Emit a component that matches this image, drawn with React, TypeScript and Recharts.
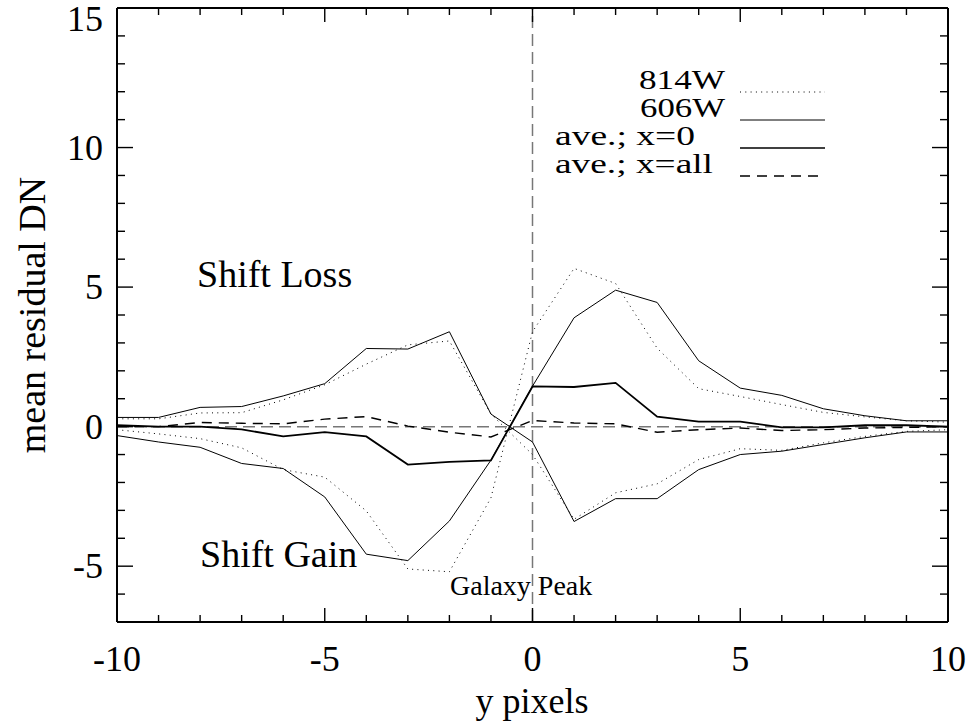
import { Legend, Line, LineChart, ReferenceLine, XAxis, YAxis } from 'recharts';

const yPixels = [-10, -9, -8, -7, -6, -5, -4, -3, -2, -1, 0, 1, 2, 3, 4, 5, 6, 7, 8, 9, 10];

// 814W, the two traces (loss side positive on the left, gain side negative on the left)
const f814Loss = [0.28, 0.28, 0.49, 0.5, 0.96, 1.5, 2.24, 2.93, 3.07, 0.45, -1.0, -3.32, -2.37, -2.05, -1.18, -0.79, -0.85, -0.58, -0.35, -0.17, -0.11];
const f814Gain = [-0.11, -0.26, -0.43, -0.76, -1.54, -1.81, -3.02, -5.1, -5.2, -2.55, 3.4, 5.67, 5.13, 2.81, 1.36, 1.08, 0.79, 0.51, 0.35, 0.21, 0.16];

// 606W
const f606Loss = [0.33, 0.33, 0.69, 0.72, 1.1, 1.54, 2.8, 2.78, 3.4, 0.45, -0.55, -3.4, -2.58, -2.58, -1.54, -1.0, -0.88, -0.64, -0.4, -0.19, -0.19];
const f606Gain = [-0.32, -0.55, -0.74, -1.32, -1.5, -2.52, -4.57, -4.8, -3.38, -1.2, 1.45, 3.9, 4.89, 4.45, 2.36, 1.38, 1.12, 0.64, 0.39, 0.21, 0.21];

// averages
const aveX0 = [0.05, 0, 0, -0.1, -0.35, -0.2, -0.35, -1.36, -1.26, -1.21, 1.44, 1.42, 1.57, 0.36, 0.18, 0.18, -0.03, -0.03, 0.05, 0.05, 0];
const aveXAll = [0, 0, 0.15, 0.12, 0.1, 0.27, 0.36, 0.02, -0.2, -0.37, 0.22, 0.13, 0.1, -0.2, -0.11, -0.05, -0.14, -0.11, -0.05, -0.03, 0];

const xTicks = yPixels;
const yTicks = [-7, -6, -5, -4, -3, -2, -1, 0, 1, 2, 3, 4, 5, 6, 7, 8, 9, 10, 11, 12, 13, 14, 15];

const legendLabels = ['814W', '606W', 'ave.; x=0', 'ave.; x=all'];

const rows = yPixels.map((x, i) => ({
  x,
  f814Loss: f814Loss[i],
  f814Gain: f814Gain[i],
  f606Loss: f606Loss[i],
  f606Gain: f606Gain[i],
  aveX0: aveX0[i],
  aveXAll: aveXAll[i],
}));

const FONT = '"Liberation Serif", "Times New Roman", serif';
const DOTTED = '1 4.3';
const DASHED = '10 7';

// legend text is a bit wider than it is tall in the original, so stretch it
const legendStyles = [
  { dash: DOTTED, width: 1, x: 139, len: 86 },
  { dash: undefined, width: 1, x: 140, len: 85 },
  { dash: undefined, width: 1.4, x: 55, len: 140 },
  { dash: DASHED, width: 1.3, x: 55, len: 158 },
];

const isMajor = (v: number) => v % 5 === 0;

const BottomTick = (props: any) => {
  const { x, y, payload } = props;
  const v = payload.value;
  return (
    <g>
      <line x1={x} y1={y} x2={x} y2={y - (isMajor(v) ? 14 : 7)} stroke='#000' strokeWidth={1.4} />
      {isMajor(v) && (
        <text x={x} y={y + 49} textAnchor='middle' fontSize={36} fontFamily={FONT} fill='#000'>
          {v}
        </text>
      )}
    </g>
  );
};

const TopTick = (props: any) => {
  const { x, y, payload } = props;
  const v = payload.value;
  return <line x1={x} y1={y} x2={x} y2={y + (isMajor(v) ? 14 : 7)} stroke='#000' strokeWidth={1.4} />;
};

const LeftTick = (props: any) => {
  const { x, y, payload } = props;
  const v = payload.value;
  return (
    <g>
      <line x1={x} y1={y} x2={x + (isMajor(v) ? 16 : 8)} y2={y} stroke='#000' strokeWidth={1.4} />
      {isMajor(v) && (
        <text x={x - 14} y={Math.max(y + 12, 31)} textAnchor='end' fontSize={36} fontFamily={FONT} fill='#000'>
          {v}
        </text>
      )}
    </g>
  );
};

const RightTick = (props: any) => {
  const { x, y, payload } = props;
  const v = payload.value;
  return <line x1={x} y1={y} x2={x - (isMajor(v) ? 16 : 8)} y2={y} stroke='#000' strokeWidth={1.4} />;
};

const renderLegend = () => (
  <svg width={340} height={140}>
    {legendLabels.map((label, i) => {
      const ly = 42 + i * 28;
      const st = legendStyles[i];
      return (
        <g key={label}>
          <text
            x={st.x}
            y={ly - 3}
            fontSize={28}
            fontFamily={FONT}
            fill='#000'
            textLength={st.len}
            lengthAdjust='spacingAndGlyphs'
          >
            {label}
          </text>
          <line x1={240} y1={ly} x2={325} y2={ly} stroke='#000' strokeWidth={st.width} strokeDasharray={st.dash} />
        </g>
      );
    })}
  </svg>
);

export default function App() {
  return (
    <div style={{ position: 'absolute', left: 0, top: 0, background: '#fff' }}>
      <LineChart
        width={972}
        height={723}
        data={rows}
        margin={{ top: 4, right: 20, bottom: 41, left: 57 }}
      >
        <XAxis
          dataKey='x'
          type='number'
          domain={[-10, 10]}
          ticks={xTicks}
          interval={0}
          height={60}
          tickSize={0}
          tickMargin={0}
          tickLine={false}
          tick={<BottomTick />}
          axisLine={{ stroke: '#000', strokeWidth: 2 }}
          allowDataOverflow
        />
        <XAxis
          xAxisId='top'
          orientation='top'
          dataKey='x'
          type='number'
          domain={[-10, 10]}
          ticks={xTicks}
          interval={0}
          height={4}
          tickSize={0}
          tickMargin={0}
          tickLine={false}
          tick={<TopTick />}
          axisLine={{ stroke: '#000', strokeWidth: 2 }}
          allowDataOverflow
        />
        <YAxis
          type='number'
          domain={[-7, 15]}
          ticks={yTicks}
          interval={0}
          width={60}
          tickSize={0}
          tickMargin={0}
          tickLine={false}
          tick={<LeftTick />}
          axisLine={{ stroke: '#000', strokeWidth: 2 }}
          allowDataOverflow
        />
        <YAxis
          yAxisId='right'
          orientation='right'
          type='number'
          domain={[-7, 15]}
          ticks={yTicks}
          interval={0}
          width={4}
          tickSize={0}
          tickMargin={0}
          tickLine={false}
          tick={<RightTick />}
          axisLine={{ stroke: '#000', strokeWidth: 2 }}
          allowDataOverflow
        />
        <ReferenceLine y={0} stroke='#777' strokeWidth={1.5} strokeDasharray='12 6' />
        <ReferenceLine x={0} stroke='#777' strokeWidth={1.5} strokeDasharray='12 6' />
        <Line dataKey='f814Loss' stroke='#000' strokeWidth={1} strokeDasharray={DOTTED} dot={false} activeDot={false} isAnimationActive={false} />
        <Line dataKey='f814Gain' stroke='#000' strokeWidth={1} strokeDasharray={DOTTED} dot={false} activeDot={false} isAnimationActive={false} />
        <Line dataKey='f606Loss' stroke='#000' strokeWidth={1} dot={false} activeDot={false} isAnimationActive={false} />
        <Line dataKey='f606Gain' stroke='#000' strokeWidth={1} dot={false} activeDot={false} isAnimationActive={false} />
        <Line dataKey='aveX0' stroke='#000' strokeWidth={1.8} dot={false} activeDot={false} isAnimationActive={false} />
        <Line dataKey='aveXAll' stroke='#000' strokeWidth={1.4} strokeDasharray={DASHED} dot={false} activeDot={false} isAnimationActive={false} />
        <Legend
          layout='vertical'
          align='center'
          verticalAlign='middle'
          wrapperStyle={{ left: 500, top: 50, width: 340, height: 140 }}
          content={renderLegend}
        />
        <text x={197} y={287} fontSize={38} fontFamily={FONT} fill='#000'>Shift Loss</text>
        <text x={200} y={567} fontSize={38} fontFamily={FONT} fill='#000'>Shift Gain</text>
        <text x={450} y={595} fontSize={28} fontFamily={FONT} fill='#000'>Galaxy Peak</text>
        <text x={532} y={713} textAnchor='middle' fontSize={36} fontFamily={FONT} fill='#000'>y pixels</text>
        <text x={45} y={315} transform='rotate(-90 45 315)' textAnchor='middle' fontSize={38} fontFamily={FONT} fill='#000'>
          mean residual DN
        </text>
      </LineChart>
    </div>
  );
}
